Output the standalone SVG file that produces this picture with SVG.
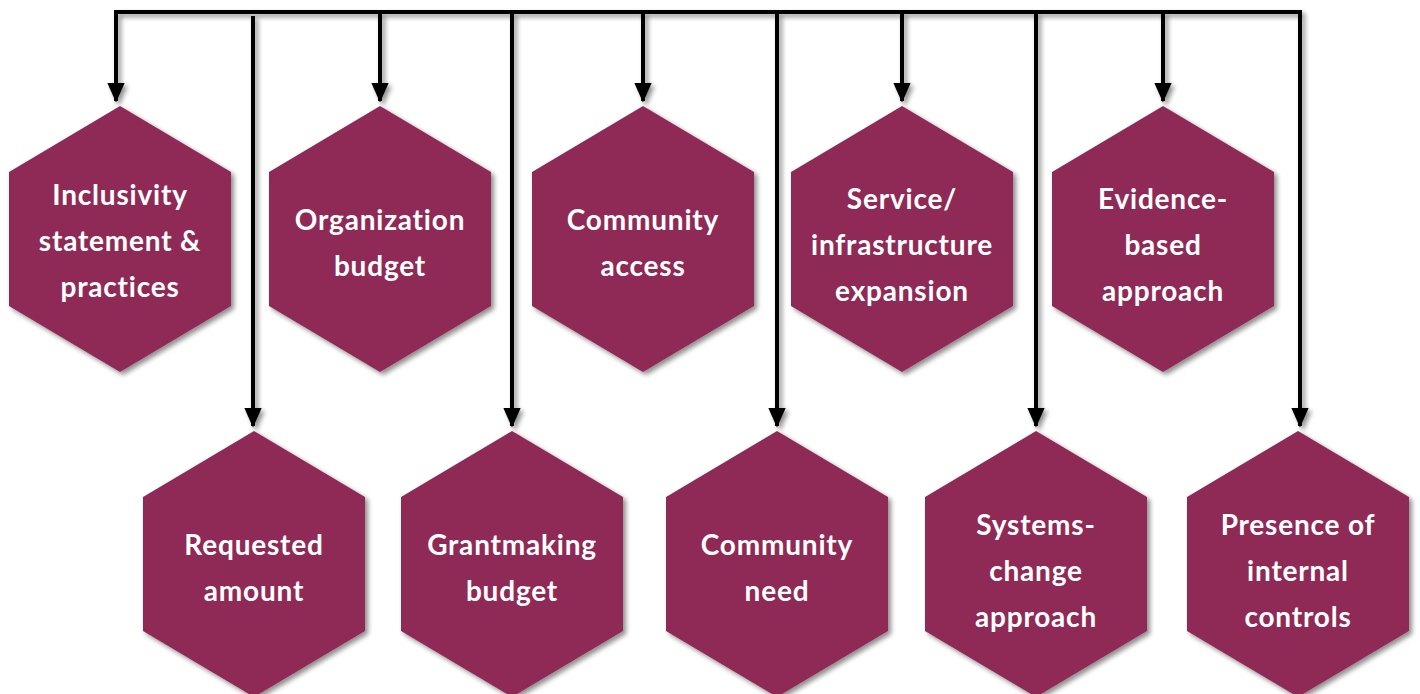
<svg xmlns="http://www.w3.org/2000/svg" width="1420" height="694" viewBox="0 0 1420 694">
<defs>
<filter id="sh" x="-20%" y="-20%" width="140%" height="140%">
<feGaussianBlur in="SourceAlpha" stdDeviation="2.5"/>
<feOffset dx="3" dy="3" result="b"/>
<feComponentTransfer><feFuncA type="linear" slope="0.45"/></feComponentTransfer>
<feMerge><feMergeNode/><feMergeNode in="SourceGraphic"/></feMerge>
</filter>
<marker id="ah" markerWidth="5" markerHeight="4.4" refX="4.6" refY="2.2" orient="auto" markerUnits="strokeWidth">
<path d="M0,0 L5,2.2 L0,4.4 z" fill="#000"/>
</marker>
<polygon id="hex" points="0,-133 111,-67 111,67 0,133 -111,67 -111,-67"/>
</defs>
<style>
.hx{fill:#8F2B57;filter:url(#sh)}
.t{font-family:Lato,"Open Sans",sans-serif;font-weight:bold;font-size:28px;letter-spacing:0.8px;fill:#fff;text-anchor:middle}
.c{fill:none;stroke:#000;stroke-width:4}
.a{marker-end:url(#ah)}
</style>
<rect width="1420" height="694" fill="#fff"/>
<g id="connectors" filter="url(#sh)">
<polyline class="c" points="116,12 1300,12"/>
<line class="c a" x1="116" y1="10" x2="116" y2="101"/>
<line class="c a" x1="380" y1="12" x2="380" y2="101"/>
<line class="c a" x1="643" y1="12" x2="643" y2="101"/>
<line class="c a" x1="902" y1="12" x2="902" y2="101"/>
<line class="c a" x1="1163" y1="12" x2="1163" y2="101"/>
<line class="c a" x1="253" y1="16" x2="253" y2="426"/>
<line class="c a" x1="512" y1="12" x2="512" y2="426"/>
<line class="c a" x1="777" y1="12" x2="777" y2="426"/>
<line class="c a" x1="1036" y1="12" x2="1036" y2="426"/>
<line class="c a" x1="1300" y1="10" x2="1300" y2="426"/>
</g>
<g id="n1"><use href="#hex" class="hx" x="120" y="239"/>
<text class="t" x="120" y="205">Inclusivity</text><text class="t" x="120" y="251">statement &amp;</text><text class="t" x="120" y="297">practices</text></g>
<g id="n2"><use href="#hex" class="hx" x="380" y="239"/>
<text class="t" x="380" y="230">Organization</text><text class="t" x="380" y="276">budget</text></g>
<g id="n3"><use href="#hex" class="hx" x="643" y="239"/>
<text class="t" x="643" y="230">Community</text><text class="t" x="643" y="276">access</text></g>
<g id="n4"><use href="#hex" class="hx" x="902" y="239"/>
<text class="t" x="902" y="209">Service/</text><text class="t" x="902" y="255">infrastructure</text><text class="t" x="902" y="301">expansion</text></g>
<g id="n5"><use href="#hex" class="hx" x="1163" y="239"/>
<text class="t" x="1163" y="209">Evidence-</text><text class="t" x="1163" y="255">based</text><text class="t" x="1163" y="301">approach</text></g>
<g id="n6"><use href="#hex" class="hx" x="254" y="564"/>
<text class="t" x="254" y="555">Requested</text><text class="t" x="254" y="601">amount</text></g>
<g id="n7"><use href="#hex" class="hx" x="512" y="564"/>
<text class="t" x="512" y="555">Grantmaking</text><text class="t" x="512" y="601">budget</text></g>
<g id="n8"><use href="#hex" class="hx" x="777" y="564"/>
<text class="t" x="777" y="555">Community</text><text class="t" x="777" y="601">need</text></g>
<g id="n9"><use href="#hex" class="hx" x="1036" y="564"/>
<text class="t" x="1036" y="535">Systems-</text><text class="t" x="1036" y="581">change</text><text class="t" x="1036" y="627">approach</text></g>
<g id="n10"><use href="#hex" class="hx" x="1298" y="564"/>
<text class="t" x="1298" y="535">Presence of</text><text class="t" x="1298" y="581">internal</text><text class="t" x="1298" y="627">controls</text></g>
</svg>
